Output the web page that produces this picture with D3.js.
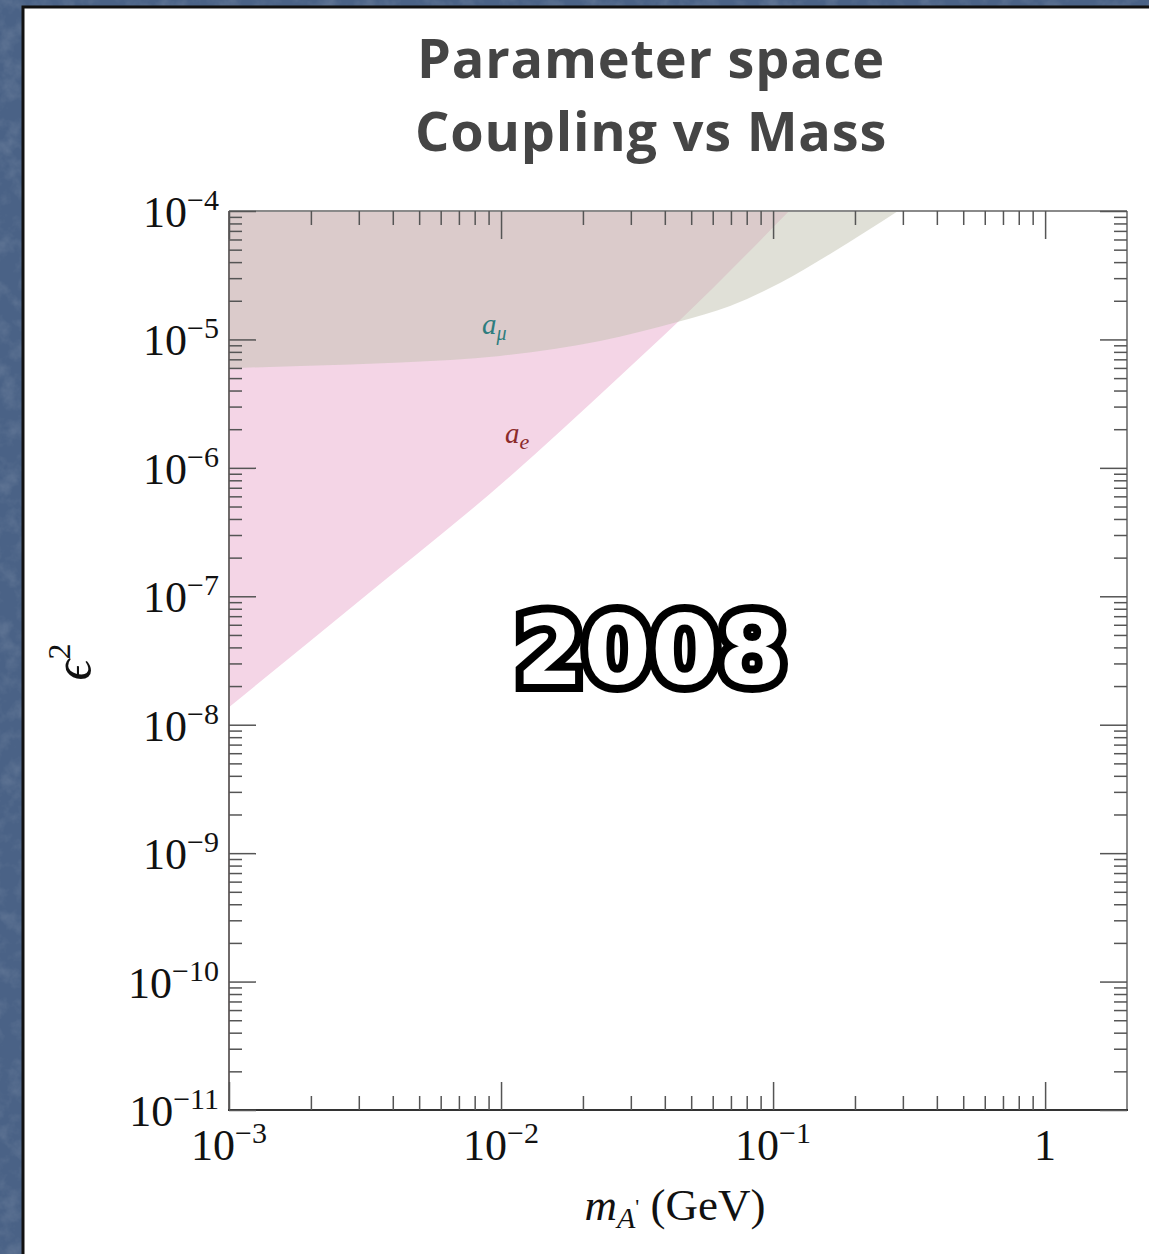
<!DOCTYPE html>
<html>
<head>
<meta charset="utf-8">
<script src="https://cdn.jsdelivr.net/npm/d3@7"></script>
<style>
  body { margin: 0; background: #4a6286; }
  svg { display: block; }
</style>
</head>
<body>
<div class="chart"></div>
<script>
const WIDTH = 1149
const HEIGHT = 1254

// a_e excluded region: lower edge (mass in GeV, eps^2)
const aeMass = [1e-3, 3.01e-3, 0.01052, 0.02667, 0.0448, 0.1146];
const aeEps2 = [1.37e-8, 9.18e-8, 8.18e-7, 4.92e-6, 1.37e-5, 1e-4];

// a_mu excluded region: lower edge
const amuMass = [1e-3, 1.82e-3, 4.26e-3, 9.9e-3, 0.0231, 0.0448, 0.0695, 0.106, 0.162, 0.288];
const amuEps2 = [5.98e-6, 6.21e-6, 6.61e-6, 7.43e-6, 9.73e-6, 1.37e-5, 1.82e-5, 2.75e-5, 4.63e-5, 1e-4];

// axes
const massTicks = [1e-3, 1e-2, 1e-1, 1];
const massTickLabels = [["10", "−3"], ["10", "−2"], ["10", "−1"], ["1", ""]];
const epsTicks = [1e-4, 1e-5, 1e-6, 1e-7, 1e-8, 1e-9, 1e-10, 1e-11];
const epsTickLabels = [["10", "−4"], ["10", "−5"], ["10", "−6"], ["10", "−7"],
                       ["10", "−8"], ["10", "−9"], ["10", "−10"], ["10", "−11"]];

const massMinor = massTicks.flatMap(d => d3.range(2, 10).map(k => k * d)).filter(d => d < 2);
const epsMinor = epsTicks.flatMap(d => d3.range(2, 10).map(k => k * d)).filter(d => d < 1e-4);

const svg = d3.select("div.chart")
            .append("svg")
            .attr("width", WIDTH)
            .attr("height", HEIGHT);

// textured blue backdrop
const defs = svg.append("defs");
const grain = defs.append("filter").attr("id", "grain")
            .attr("x", 0).attr("y", 0).attr("width", "100%").attr("height", "100%");
grain.append("feTurbulence")
            .attr("type", "fractalNoise")
            .attr("baseFrequency", "0.05")
            .attr("numOctaves", 4)
            .attr("seed", 7);
grain.append("feColorMatrix")
            .attr("type", "matrix")
            .attr("values", "0 0 0 0 1  0 0 0 0 1  0 0 0 0 1  0.8 0 0 0 -0.35");

svg.append("rect")
            .attr("width", WIDTH).attr("height", HEIGHT)
            .attr("fill", "#4a6286");
svg.append("rect")
            .attr("width", WIDTH).attr("height", HEIGHT)
            .attr("filter", "url(#grain)")
            .attr("opacity", 0.35);

// white slide panel
svg.append("rect")
            .attr("x", 23).attr("y", 7)
            .attr("width", 1200).attr("height", 1300)
            .attr("fill", "white")
            .attr("stroke", "#111")
            .attr("stroke-width", 3);

// title
const title = svg.append("text")
            .attr("text-anchor", "middle")
            .attr("font-family", "'Open Sans', Lato, sans-serif")
            .attr("font-weight", "bold")
            .attr("font-size", 54)
            .attr("letter-spacing", 0.8)
            .attr("fill", "#454545");
title.append("tspan").attr("x", 651).attr("y", 78).text("Parameter space");
title.append("tspan").attr("x", 651).attr("y", 151).text("Coupling vs Mass");

// scales
const x = d3.scaleLog().domain([1e-3, 2]).range([229, 1127]);
const y = d3.scaleLog().domain([1e-11, 1e-4]).range([1110, 211]);

const plot = svg.append("g");

// regions
const edge = d3.line()
            .x(d => x(d[0]))
            .y(d => y(d[1]))
            .curve(d3.curveMonotoneX);

function regionPath(mass, eps2) {
    const pts = mass.map((m, i) => [m, eps2[i]]);
    return edge(pts) + "L" + x(1e-3) + "," + y(1e-4) + "Z";
}

plot.append("path")
            .attr("d", regionPath(aeMass, aeEps2))
            .attr("fill", "#f4d5e6");

plot.append("path")
            .attr("d", regionPath(amuMass, amuEps2))
            .attr("fill", "#c1c1b0")
            .attr("fill-opacity", 0.5);

// region labels
const lblMu = plot.append("text")
            .attr("x", 482).attr("y", 334)
            .attr("font-family", "'Liberation Serif', serif")
            .attr("font-style", "italic")
            .attr("font-size", 29)
            .attr("fill", "#2e7d7e");
lblMu.append("tspan").text("a");
lblMu.append("tspan").attr("font-size", 20).attr("dy", 6).text("μ");

const lblE = plot.append("text")
            .attr("x", 505).attr("y", 443)
            .attr("font-family", "'Liberation Serif', serif")
            .attr("font-style", "italic")
            .attr("font-size", 29)
            .attr("fill", "#8b2b2b");
lblE.append("tspan").text("a");
lblE.append("tspan").attr("font-size", 22).attr("dy", 6).text("e");

// frame
const frame = svg.append("g").attr("fill", "none").attr("stroke-width", 2);
frame.append("line").attr("x1", 229).attr("x2", 1127).attr("y1", 211).attr("y2", 211).attr("stroke", "#8a8a8a");
frame.append("line").attr("x1", 1127).attr("x2", 1127).attr("y1", 211).attr("y2", 1110).attr("stroke", "#8a8a8a");
frame.append("line").attr("x1", 229).attr("x2", 229).attr("y1", 211).attr("y2", 1111).attr("stroke", "#6f6a6a");
frame.append("line").attr("x1", 228).attr("x2", 1128).attr("y1", 1110).attr("y2", 1110).attr("stroke", "#333");

// ticks
function ticks(axis, transform, values, size) {
    const g = svg.append("g")
            .attr("transform", transform)
            .call(axis.tickValues(values).tickSize(size).tickFormat(""));
    g.select(".domain").remove();
    g.selectAll("line").attr("stroke", "#555").attr("stroke-width", 1.5);
}

ticks(d3.axisBottom(x), "translate(0,1110)", massTicks, -28);
ticks(d3.axisBottom(x), "translate(0,1110)", massMinor, -14);
ticks(d3.axisTop(x), "translate(0,211)", massTicks, -28);
ticks(d3.axisTop(x), "translate(0,211)", massMinor, -14);
ticks(d3.axisLeft(y), "translate(229,0)", epsTicks, -27);
ticks(d3.axisLeft(y), "translate(229,0)", epsMinor, -13);
ticks(d3.axisRight(y), "translate(1127,0)", epsTicks, -27);
ticks(d3.axisRight(y), "translate(1127,0)", epsMinor, -13);

// tick labels
const font = "'Liberation Serif', 'Times New Roman', serif";

const xl = svg.append("g")
            .selectAll("text")
            .data(massTicks)
            .enter()
            .append("text")
            .attr("x", d => x(d))
            .attr("y", 1160)
            .attr("text-anchor", "middle")
            .attr("font-family", font)
            .attr("font-size", 44)
            .attr("fill", "#111");
xl.append("tspan").text((d, i) => massTickLabels[i][0]);
xl.append("tspan")
            .attr("font-size", 30)
            .attr("dy", -17)
            .text((d, i) => massTickLabels[i][1]);

const yl = svg.append("g")
            .selectAll("text")
            .data(epsTicks)
            .enter()
            .append("text")
            .attr("x", 219)
            .attr("y", d => y(d) + 16)
            .attr("text-anchor", "end")
            .attr("font-family", font)
            .attr("font-size", 44)
            .attr("fill", "#111");
yl.append("tspan").text((d, i) => epsTickLabels[i][0]);
yl.append("tspan")
            .attr("font-size", 30)
            .attr("dy", -17)
            .text((d, i) => epsTickLabels[i][1]);

// axis titles
const xt = svg.append("text")
            .attr("x", 675).attr("y", 1220)
            .attr("text-anchor", "middle")
            .attr("font-family", font)
            .attr("font-size", 45)
            .attr("fill", "#111");
xt.append("tspan").attr("font-style", "italic").text("m");
xt.append("tspan").attr("font-style", "italic").attr("font-size", 30).attr("dy", 8).text("A");
xt.append("tspan").attr("font-size", 22).attr("dy", -14).text("'");
xt.append("tspan").attr("dy", 6).text(" (GeV)");

const yt = svg.append("text")
            .attr("transform", "translate(90,662) rotate(-90)")
            .attr("text-anchor", "middle")
            .attr("font-family", font)
            .attr("font-size", 52)
            .attr("fill", "#111");
yt.append("tspan").attr("font-style", "italic").text("ϵ");
yt.append("tspan").attr("font-size", 32).attr("dy", -20).text("2");

// year stamp
svg.append("text")
            .attr("x", 651).attr("y", 684)
            .attr("text-anchor", "middle")
            .attr("font-family", "'DejaVu Sans', sans-serif")
            .attr("font-weight", "bold")
            .attr("font-size", 97)
            .attr("fill", "white")
            .attr("stroke", "black")
            .attr("stroke-width", 16)
            .attr("stroke-linejoin", "miter")
            .attr("paint-order", "stroke")
            .text("2008");
</script>
</body>
</html>
